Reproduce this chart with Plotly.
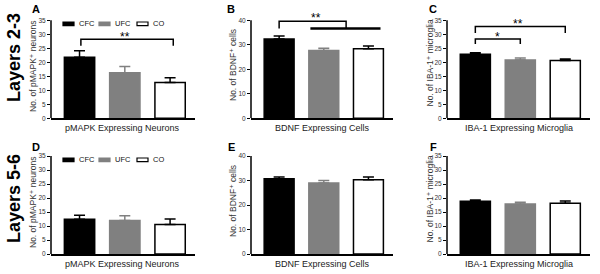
import plotly.graph_objects as go

# ---------------- data ----------------
groups = ["CFC", "UFC", "CO"]
fill_colors = ["#000000", "#808080", "#ffffff"]
edge_colors = ["#000000", "#808080", "#000000"]

pmapk_l23_mean = [21.8, 16.3, 12.8]
pmapk_l23_sem = [2.3, 2.2, 1.7]
bdnf_l23_mean = [32.4, 27.7, 28.4]
bdnf_l23_sem = [1.2, 0.9, 1.1]
iba1_l23_mean = [22.9, 20.8, 20.6]
iba1_l23_sem = [0.5, 0.7, 0.6]

pmapk_l56_mean = [12.4, 12.0, 10.5]
pmapk_l56_sem = [1.4, 1.7, 2.0]
bdnf_l56_mean = [30.7, 29.0, 30.3]
bdnf_l56_sem = [0.7, 1.0, 1.1]
iba1_l56_mean = [18.8, 17.9, 18.1]
iba1_l56_sem = [0.5, 0.6, 0.8]

x_labels = ["pMAPK Expressing Neurons", "BDNF Expressing Cells", "IBA-1 Expressing Microglia"]
y_titles = ["No. of pMAPK\u207a neurons", "No. of BDNF\u207a cells",
            "No. of IBA-1\u207a microglia"]
panel_letters = ["A", "B", "C", "D", "E", "F"]
row_labels = ["Layers 2-3", "Layers 5-6"]
y_tick_max = [35, 40, 35]
y_tick_step = [5, 10, 5]

means = [pmapk_l23_mean, bdnf_l23_mean, iba1_l23_mean,
         pmapk_l56_mean, bdnf_l56_mean, iba1_l56_mean]
sems = [pmapk_l23_sem, bdnf_l23_sem, iba1_l23_sem,
        pmapk_l56_sem, bdnf_l56_sem, iba1_l56_sem]

# ---------------- layout geometry (pixels) ----------------
W, H = 600, 274
col_px = [(51, 195), (251, 393), (447, 590)]
row_px = [(12, 118.3), (148, 254)]   # (top, bottom) of plot area
tick_span_px = 98.0                  # pixels between 0 and top tick

def px_x(p):
    return p / W

def px_y(p):
    return 1 - p / H

fig = go.Figure()
annotations = []
shapes = []
FONT = "Liberation Sans, DejaVu Sans"

for i in range(6):
    r, c = divmod(i, 3)
    n = i + 1
    xa = "x" if n == 1 else f"x{n}"
    ya = "y" if n == 1 else f"y{n}"
    xkey = "xaxis" if n == 1 else f"xaxis{n}"
    ykey = "yaxis" if n == 1 else f"yaxis{n}"
    top, bot = row_px[r]
    T = y_tick_max[c]
    ymax = T * (bot - top) / tick_span_px

    for g in range(3):
        fig.add_trace(go.Bar(
            x=[g], y=[means[i][g]], width=0.67,
            marker=dict(color=fill_colors[g], line=dict(color=edge_colors[g], width=1.5)),
            error_y=dict(type="data", symmetric=False, array=[sems[i][g]], arrayminus=[0],
                         color=edge_colors[g], thickness=1.5, width=5.5),
            xaxis=xa, yaxis=ya, showlegend=False, name=groups[g],
        ))

    fig.layout[xkey] = dict(
        domain=[px_x(col_px[c][0]), px_x(col_px[c][1])], anchor=ya,
        range=[-0.63, 2.55], showticklabels=False, ticks="", showgrid=False,
        zeroline=False, showline=True, linecolor="#000", linewidth=1.5,
    )
    fig.layout[ykey] = dict(
        domain=[px_y(bot), px_y(top)], anchor=xa, range=[0, ymax],
        tickmode="array", tickvals=list(range(0, T + 1, y_tick_step[c])),
        ticktext=[str(v) for v in range(0, T + 1, y_tick_step[c])],
        showticklabels=True, ticks="outside", ticklen=3, ticklabeloverflow="allow",
        ticklabelstandoff=0,
        tickwidth=1.2, tickcolor="#000", showline=False, showgrid=False, zeroline=False,
        tickfont=dict(family=FONT, size=6.5, color="#333"),
    )
    # y axis line up to top tick
    shapes.append(dict(type="line", xref=f"{xa} domain", yref=ya, x0=0, x1=0, y0=0, y1=T,
                       line=dict(color="#000", width=1.5)))

    # x label
    annotations.append(dict(text=x_labels[c], x=px_x((col_px[c][0] + col_px[c][1]) / 2),
                            y=px_y(bot + 9.5), xref="paper", yref="paper", showarrow=False,
                            font=dict(family=FONT, size=9, color="#222"),
                            xanchor="center", yanchor="middle"))
    # y title
    ytitle_x = [33, 233, 429.5][c]
    ytitle_y = [67, 65, 63][c] + r * 136
    annotations.append(dict(text=y_titles[c], x=px_x(ytitle_x), y=px_y(ytitle_y),
                            xref="paper", yref="paper", showarrow=False, textangle=-90,
                            font=dict(family=FONT, size=8.5, color="#333"),
                            xanchor="center", yanchor="middle"))
    # panel letter
    annotations.append(dict(text=f"<b>{panel_letters[i]}</b>",
                            x=px_x([36, 231, 433][c]), y=px_y(9 + r * 138),
                            xref="paper", yref="paper", showarrow=False,
                            font=dict(family=FONT, size=11, color="#000"),
                            xanchor="center", yanchor="middle"))

# row labels
for r in range(2):
    annotations.append(dict(text=f"<b>{row_labels[r]}</b>", x=px_x(14), y=px_y(58 + r * 141),
                            xref="paper", yref="paper", showarrow=False, textangle=-90,
                            font=dict(family=FONT, size=18, color="#000"),
                            xanchor="center", yanchor="middle"))

# legends in panels A and D
legend_x = [(63, 74, 76.5), (99, 110, 112.5), (137, 148, 150.5)]
for r in range(2):
    yc = 23.8 + r * 136
    for g in range(3):
        bx0, bx1, tx = legend_x[g]
        shapes.append(dict(type="rect", xref="paper", yref="paper",
                           x0=px_x(bx0), x1=px_x(bx1), y0=px_y(yc + 1.8), y1=px_y(yc - 1.8),
                           fillcolor=fill_colors[g],
                           line=dict(color=edge_colors[g], width=1.2)))
        annotations.append(dict(text=groups[g], x=px_x(tx), y=px_y(yc), xref="paper",
                                yref="paper", showarrow=False, xanchor="left", yanchor="middle",
                                font=dict(family=FONT, size=7.5, color="#111")))

# significance brackets (data coords)
def bracket(xa, ya, x0, x1, y_top, y_left, y_right, w=1.5):
    shapes.append(dict(type="path", xref=xa, yref=ya,
                       path=f"M {x0},{y_left} L {x0},{y_top} L {x1},{y_top} L {x1},{y_right}",
                       line=dict(color="#000", width=w)))

def stars(xa, ya, x, y, txt):
    annotations.append(dict(text=txt, x=x, y=y, xref=xa, yref=ya, showarrow=False,
                            xanchor="center", yanchor="middle", yshift=-2.5,
                            font=dict(family=FONT, size=12, color="#000")))

# A
bracket("x", "y", 0.03, 2.07, 28.2, 25.9, 25.9)
stars("x", "y", 1.0, 30.0, "**")
# B
bracket("x2", "y2", 0.0, 1.5, 39.6, 36.7, 36.7)
shapes.append(dict(type="line", xref="x2", yref="y2", x0=0.7, x1=2.27, y0=36.7, y1=36.7,
                   line=dict(color="#000", width=2.5)))
stars("x2", "y2", 0.82, 42.0, "**")
# C
bracket("x3", "y3", 0.0, 1.0, 28.3, 26.5, 26.5)
stars("x3", "y3", 0.5, 30.1, "*")
bracket("x3", "y3", 0.0, 2.0, 32.8, 30.5, 30.5)
stars("x3", "y3", 0.95, 34.7, "**")

fig.update_layout(
    width=W, height=H, margin=dict(l=0, r=0, t=0, b=0, autoexpand=False),
    paper_bgcolor="white", plot_bgcolor="white", barmode="overlay",
    annotations=annotations, shapes=shapes, showlegend=False,
)

fig.write_html("out.html", config={"displayModeBar": False},
               post_script="document.body.style.margin='0';")
